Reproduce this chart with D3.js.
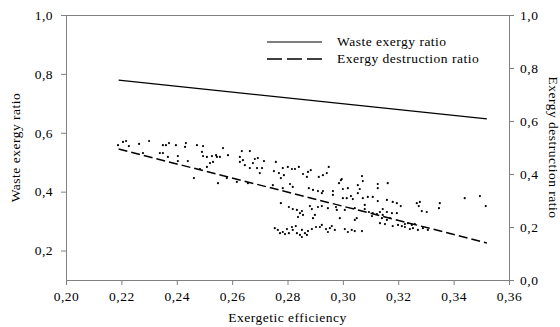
<!DOCTYPE html>
<html>
<head>
<meta charset="utf-8">
<script src="https://cdn.jsdelivr.net/npm/d3@7"></script>
<style>
  body { margin: 0; background: #fff; }
  svg text { font-family: "Liberation Serif", "Times New Roman", Times, "DejaVu Serif", serif; letter-spacing: 0.5px; }
  .axis path, .axis line { stroke: #808080; }
  .axis text { fill: #000; font-size: 13.5px; }
  .label { font-size: 13.5px; fill: #000; }
</style>
</head>
<body>
<svg id="chart" width="560" height="327"></svg>
<script>
// tick values
var xTicks = [0.20, 0.22, 0.24, 0.26, 0.28, 0.30, 0.32, 0.34, 0.36];
var leftTicks = [0.2, 0.4, 0.6, 0.8, 1.0];
var rightTicks = [0.0, 0.2, 0.4, 0.6, 0.8, 1.0];

// trend lines (efficiency, ratio)
var wasteLine = [[0.219, 0.779], [0.352, 0.647]];        // left axis
var destructionLine = [[0.219, 0.494], [0.352, 0.140]];  // right axis

// measured points (efficiency, waste exergy ratio)
var points = [
  [0.2188, 0.558], [0.2206, 0.569], [0.2217, 0.572], [0.2227, 0.555], [0.2264, 0.562],
  [0.2300, 0.572], [0.2350, 0.558], [0.2361, 0.558], [0.2372, 0.565], [0.2397, 0.558],
  [0.2433, 0.565], [0.2430, 0.552], [0.2473, 0.558], [0.2495, 0.555], [0.2567, 0.548],
  [0.2635, 0.538], [0.2664, 0.538], [0.2278, 0.531], [0.2339, 0.531], [0.2350, 0.531],
  [0.2368, 0.518], [0.2404, 0.521], [0.2404, 0.504], [0.2440, 0.504], [0.2491, 0.535],
  [0.2495, 0.521], [0.2509, 0.518], [0.2527, 0.521], [0.2542, 0.524], [0.2545, 0.518],
  [0.2556, 0.518], [0.2531, 0.501], [0.2585, 0.524], [0.2520, 0.497], [0.2628, 0.518],
  [0.2639, 0.507], [0.2628, 0.501], [0.2682, 0.511], [0.2675, 0.497], [0.2646, 0.490],
  [0.2664, 0.480], [0.2690, 0.480], [0.2509, 0.484], [0.2484, 0.477], [0.2462, 0.446],
  [0.2549, 0.429], [0.2581, 0.446], [0.2617, 0.433], [0.2657, 0.429], [0.2693, 0.514],
  [0.2708, 0.480],
  [0.2715, 0.504], [0.2758, 0.501], [0.2700, 0.463], [0.2751, 0.470], [0.2769, 0.463],
  [0.2783, 0.480], [0.2801, 0.484], [0.2816, 0.477], [0.2827, 0.477], [0.2841, 0.484],
  [0.2787, 0.456], [0.2776, 0.446], [0.2856, 0.460], [0.2874, 0.467], [0.2884, 0.473],
  [0.2870, 0.450], [0.2913, 0.450], [0.2928, 0.456], [0.2942, 0.463], [0.2949, 0.484],
  [0.2993, 0.439], [0.2986, 0.429],
  [0.2747, 0.422], [0.2809, 0.426], [0.2819, 0.416], [0.2783, 0.412], [0.2877, 0.412],
  [0.2892, 0.406], [0.2910, 0.402], [0.2928, 0.402], [0.2924, 0.395], [0.2964, 0.402],
  [0.2964, 0.389], [0.2776, 0.361], [0.2805, 0.348], [0.2819, 0.341], [0.2834, 0.338],
  [0.2852, 0.334], [0.2845, 0.327], [0.2856, 0.321], [0.2838, 0.314], [0.2881, 0.351],
  [0.2888, 0.341], [0.2899, 0.321], [0.2892, 0.310], [0.2910, 0.348], [0.2924, 0.351],
  [0.2946, 0.344], [0.2975, 0.348], [0.2978, 0.338], [0.2989, 0.310],
  [0.2754, 0.276], [0.2765, 0.270], [0.2783, 0.263], [0.2791, 0.256], [0.2798, 0.273],
  [0.2816, 0.280], [0.2819, 0.270], [0.2830, 0.283], [0.2834, 0.259], [0.2845, 0.253],
  [0.2852, 0.270], [0.2863, 0.259], [0.2874, 0.266], [0.2888, 0.273], [0.2903, 0.280],
  [0.2917, 0.280], [0.2924, 0.287], [0.2939, 0.273], [0.2946, 0.263], [0.2953, 0.276],
  [0.2960, 0.283], [0.2971, 0.270], [0.2852, 0.246], [0.2870, 0.253], [0.2805, 0.259],
  [0.2773, 0.259],
  [0.2996, 0.443], [0.3069, 0.453], [0.3072, 0.436], [0.3126, 0.426], [0.3162, 0.429],
  [0.3126, 0.412], [0.3000, 0.409], [0.3018, 0.412], [0.3054, 0.422], [0.3061, 0.409],
  [0.3054, 0.395], [0.3000, 0.378], [0.3014, 0.378], [0.3029, 0.385], [0.3036, 0.375],
  [0.3072, 0.378], [0.3090, 0.382], [0.3108, 0.382], [0.3126, 0.368], [0.3159, 0.372],
  [0.3180, 0.365], [0.3195, 0.361], [0.3209, 0.351], [0.3267, 0.361], [0.3278, 0.365],
  [0.3274, 0.351], [0.3285, 0.334], [0.3303, 0.331], [0.3350, 0.361], [0.3347, 0.344],
  [0.3440, 0.378], [0.3495, 0.385], [0.3516, 0.351],
  [0.3007, 0.338], [0.3043, 0.344], [0.3079, 0.355], [0.3079, 0.341], [0.3094, 0.331],
  [0.3108, 0.327], [0.3105, 0.317], [0.3123, 0.324], [0.3134, 0.331], [0.3144, 0.341],
  [0.3144, 0.321], [0.3159, 0.331], [0.3177, 0.327], [0.3195, 0.327], [0.3050, 0.310],
  [0.3043, 0.304], [0.3141, 0.310], [0.3159, 0.304], [0.3170, 0.310], [0.3134, 0.293],
  [0.3152, 0.290], [0.3180, 0.283], [0.3199, 0.287], [0.3213, 0.283], [0.3224, 0.290],
  [0.3235, 0.293], [0.3249, 0.287], [0.3260, 0.290], [0.3224, 0.280], [0.3242, 0.273],
  [0.3253, 0.276], [0.3271, 0.270], [0.3007, 0.273], [0.3018, 0.263], [0.3032, 0.270],
  [0.3043, 0.266], [0.3069, 0.266], [0.3289, 0.276], [0.3307, 0.270]
];

var legendItems = ["Waste exergy ratio", "Exergy destruction ratio"];

var params = {
  "svg": { "width": 560, "height": 327 },
  "margin": { "top": 15, "right": 51, "bottom": 47, "left": 66 }
};

params["plot"] = {
  "x": params.margin.left,
  "y": params.margin.top,
  "width": params.svg.width - params.margin.left - params.margin.right,
  "height": params.svg.height - params.margin.top - params.margin.bottom
};

var locale = d3.formatLocale({ decimal: ",", thousands: ".", grouping: [3], currency: ["", ""] });

var scale = {
  "x": d3.scaleLinear().domain([0.20, 0.36]).range([0, params.plot.width]),
  "yLeft": d3.scaleLinear().domain([0.1, 1.0]).range([params.plot.height, 0]),
  "yRight": d3.scaleLinear().domain([0.0, 1.0]).range([params.plot.height, 0])
};

var axis = {
  "x": d3.axisBottom(scale.x).tickValues(xTicks).tickSize(5).tickSizeOuter(0)
    .tickPadding(6).tickFormat(locale.format(".2f")),
  "yLeft": d3.axisLeft(scale.yLeft).tickValues(leftTicks).tickSize(5).tickSizeOuter(0)
    .tickPadding(8).tickFormat(locale.format(".1f")),
  "yRight": d3.axisRight(scale.yRight).tickValues(rightTicks).tickSize(5).tickSizeOuter(0)
    .tickPadding(6).tickFormat(locale.format(".1f"))
};

var translate = function(x, y) { return "translate(" + x + "," + y + ")"; };
var serif = "'Liberation Serif', 'Times New Roman', 'DejaVu Serif', serif";

var svg = d3.select("#chart");
var plot = svg.append("g").attr("transform", translate(params.plot.x, params.plot.y));

// top border
plot.append("line")
  .attr("x1", 0).attr("x2", params.plot.width)
  .attr("y1", 0.5).attr("y2", 0.5)
  .attr("stroke", "#808080");

var gx = plot.append("g").attr("class", "axis")
  .attr("transform", translate(0, params.plot.height))
  .call(axis.x);

var gl = plot.append("g").attr("class", "axis")
  .call(axis.yLeft);

var gr = plot.append("g").attr("class", "axis")
  .attr("transform", translate(params.plot.width, 0))
  .call(axis.yRight);

[gx, gl, gr].forEach(function(g) {
  g.attr("font-family", serif).attr("font-size", 13.5);
});

// lines
var lineLeft = d3.line()
  .x(function(d) { return scale.x(d[0]); })
  .y(function(d) { return scale.yLeft(d[1]); });

var lineRight = d3.line()
  .x(function(d) { return scale.x(d[0]); })
  .y(function(d) { return scale.yRight(d[1]); });

plot.append("path")
  .attr("d", lineLeft(wasteLine))
  .attr("fill", "none").attr("stroke", "#000").attr("stroke-width", 1.2);

plot.append("path")
  .attr("d", lineRight(destructionLine))
  .attr("fill", "none").attr("stroke", "#000").attr("stroke-width", 1.5)
  .attr("stroke-dasharray", "9,4");

// scatter
plot.selectAll("circle.pt")
  .data(points)
  .enter()
  .append("circle")
  .attr("class", "pt")
  .attr("cx", function(d) { return scale.x(d[0]); })
  .attr("cy", function(d) { return scale.yLeft(d[1]); })
  .attr("r", 1.1)
  .attr("fill", "#000");

// legend
var legend = svg.append("g").attr("transform", translate(267, 42));
legend.selectAll("line")
  .data(legendItems)
  .enter()
  .append("line")
  .attr("x1", 0).attr("x2", 55)
  .attr("y1", function(d, i) { return i * 17; })
  .attr("y2", function(d, i) { return i * 17; })
  .attr("stroke", "#000")
  .attr("stroke-width", function(d, i) { return i ? 1.5 : 1.2; })
  .attr("stroke-dasharray", function(d, i) { return i ? "15,5" : null; });

legend.selectAll("text")
  .data(legendItems)
  .enter()
  .append("text")
  .attr("class", "label")
  .attr("font-family", serif)
  .attr("x", 70)
  .attr("y", function(d, i) { return i * 17 + 4; })
  .text(function(d) { return d; });

// axis titles
svg.append("text")
  .attr("class", "label")
  .attr("font-family", serif)
  .attr("text-anchor", "middle")
  .attr("transform", translate(params.plot.x + params.plot.width / 2, 322))
  .text("Exergetic efficiency");

svg.append("text")
  .attr("class", "label")
  .attr("font-family", serif)
  .attr("text-anchor", "middle")
  .attr("transform", translate(20, params.plot.y + params.plot.height / 2) + " rotate(-90)")
  .text("Waste exergy ratio");

svg.append("text")
  .attr("class", "label")
  .attr("font-family", serif)
  .attr("text-anchor", "middle")
  .attr("transform", translate(549, params.plot.y + params.plot.height / 2) + " rotate(90)")
  .text("Exergy destruction ratio");
</script>
</body>
</html>
